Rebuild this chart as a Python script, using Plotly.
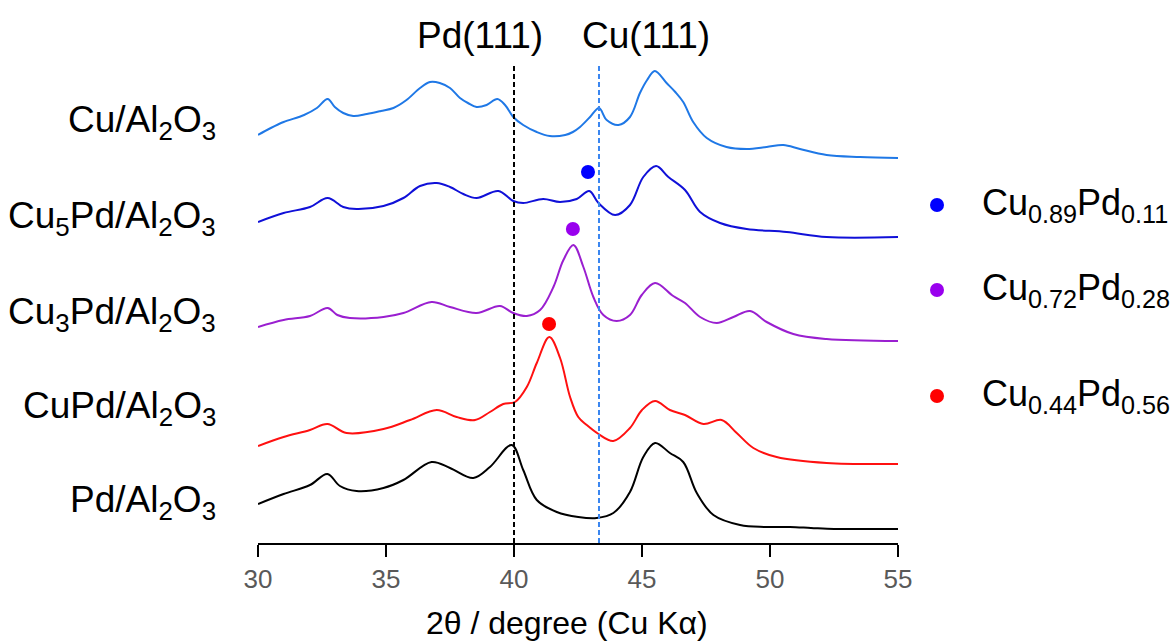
import plotly.graph_objects as go

# ---- data (2theta in degrees, intensity in arbitrary units, stacked) ----
cu_x = [30.0, 30.5, 31.0, 31.8, 32.3, 32.72, 33.0, 33.33, 33.72, 34.25, 34.8, 35.29, 35.8, 36.33, 36.72,
        37.1, 37.5, 37.89, 38.2, 38.54, 38.93, 39.35, 39.65, 39.97, 40.36, 40.89, 41.4, 42.0, 42.3,
        42.58, 42.97, 43.32, 43.62, 44.08, 44.53, 44.92, 45.2, 45.5, 45.96, 46.3, 46.61, 47.0, 47.53,
        48.3, 49.09, 49.87, 50.52, 51.17, 52.21, 53.52, 55.0]
cu_y = [408, 415, 421, 428, 435, 444, 436, 430, 427, 429, 432, 435, 443, 455, 461,
        460, 455, 445, 440, 436, 438, 444, 438, 426, 418, 411, 407, 408, 411,
        416, 426, 435, 423, 418, 426, 450, 463, 472, 460, 451, 441, 421, 405,
        396, 394, 396, 398, 394, 388, 386, 385]

cu5pd_x = [30.0, 31.0, 32.03, 32.72, 33.33, 33.85, 34.9, 35.68, 36.33, 36.98, 37.5, 38.02, 38.54, 39.39,
           39.97, 40.36, 41.14, 41.8, 42.45, 42.94, 43.3, 43.95, 44.53, 45.05, 45.55, 46.03, 46.68,
           47.27, 48.05, 49.09, 50.65, 52.21, 55.0]
cu5pd_y = [321, 330, 336, 345, 336, 334, 337, 345, 357, 360, 356, 349, 345, 352,
           342, 340, 344, 341, 344, 352, 340, 328, 338, 366, 377, 366, 353,
           331, 320, 314, 311, 306, 306]

cu3pd_x = [30.0, 31.0, 32.03, 32.72, 33.1, 33.59, 34.9, 35.68, 36.78, 37.5, 38.54, 39.45, 39.97, 40.5,
           41.02, 41.54, 41.93, 42.32, 42.71, 43.1, 43.49, 44.01, 44.53, 44.99, 45.51, 46.22, 46.68,
           47.27, 47.92, 48.57, 49.22, 49.87, 50.91, 52.21, 55.0]
cu3pd_y = [216, 223, 227, 235, 228, 225, 226, 230, 241, 236, 230, 237, 230, 227,
           233, 256, 283, 298, 276, 246, 228, 222, 228, 248, 260, 247, 240,
           226, 220, 226, 232, 221, 209, 204, 202]

cupd_x = [30.0, 31.0, 32.03, 32.71, 33.46, 34.9, 35.94, 36.98, 37.76, 38.48, 39.06, 39.58, 40.04, 40.5,
          40.89, 41.38, 41.8, 42.19, 42.51, 42.84, 43.3, 43.88, 44.53, 45.0, 45.51, 46.09, 46.68,
          47.4, 48.11, 48.7, 49.35, 50.26, 52.21, 55.0]
cupd_y = [97, 106, 113, 119, 110, 114, 123, 133, 126, 123, 131, 139, 141, 156,
          180, 206, 185, 146, 126, 118, 109, 102, 115, 133, 142, 133, 128,
          119, 123, 110, 95, 86, 80, 79]

pd_x = [30.0, 31.0, 32.03, 32.71, 33.2, 33.85, 34.9, 35.68, 36.78, 37.5, 38.41, 39.06, 39.91, 40.36,
        40.89, 41.67, 42.51, 43.23, 43.88, 44.53, 45.05, 45.51, 46.09, 46.61, 47.14, 47.79, 48.83,
        49.8, 50.78, 51.6, 52.5, 53.6, 55.0]
pd_y = [39, 49, 58, 69, 57, 52, 55, 63, 81, 75, 65, 76, 98, 73,
        43, 31, 26, 25, 30, 51, 86, 100, 90, 81, 50, 28, 18,
        16, 16, 15, 14, 14, 14]

series_names = ["Cu/Al<sub>2</sub>O<sub>3</sub>", "Cu<sub>5</sub>Pd/Al<sub>2</sub>O<sub>3</sub>",
                "Cu<sub>3</sub>Pd/Al<sub>2</sub>O<sub>3</sub>", "CuPd/Al<sub>2</sub>O<sub>3</sub>",
                "Pd/Al<sub>2</sub>O<sub>3</sub>"]
series_colors = ["#1f78e6", "#1010d8", "#9a1fd0", "#ff1010", "#000000"]
label_y = [421, 325, 229, 135, 41]

# alloy peak markers
peak_x = [42.89, 42.30, 41.37]
peak_y = [371, 314, 219]
peak_colors = ["#0000ff", "#9900ee", "#ff0000"]
peak_labels = ["Cu<sub>0.89</sub>Pd<sub>0.11</sub>", "Cu<sub>0.72</sub>Pd<sub>0.28</sub>",
               "Cu<sub>0.44</sub>Pd<sub>0.56</sub>"]
legend_py = [205, 290, 396]

ref_lines_x = [40.0, 43.32]
ref_labels = ["Pd(111)", "Cu(111)"]
ref_colors = ["#000000", "#3a86f0"]

tick_vals = [30, 35, 40, 45, 50, 55]

FONT = "Liberation Sans, Arial, sans-serif"
W, H = 1174, 644
L, R, T, B = 258, 276, 0, 101
YMAX = 543

fig = go.Figure()
for xs, ys, c in zip([cu_x, cu5pd_x, cu3pd_x, cupd_x, pd_x],
                     [cu_y, cu5pd_y, cu3pd_y, cupd_y, pd_y], series_colors):
    fig.add_trace(go.Scatter(x=xs, y=ys, mode="lines",
                             line=dict(color=c, width=2, shape="spline", smoothing=1.0),
                             showlegend=False, hoverinfo="skip"))

fig.add_trace(go.Scatter(x=peak_x, y=peak_y, mode="markers",
                         marker=dict(color=peak_colors, size=14), showlegend=False,
                         cliponaxis=False))

shapes = []
for xv, c in zip(ref_lines_x, ref_colors):
    shapes.append(dict(type="line", xref="x", yref="y", x0=xv, x1=xv, y0=0, y1=478,
                       line=dict(color=c, width=2, dash="5px,3px")))

annotations = []
ref_label_x = [38.67, 45.16]
for xv, t in zip(ref_label_x, ref_labels):
    annotations.append(dict(x=xv, y=YMAX - 35, xref="x", yref="y", text=t, showarrow=False,
                            font=dict(size=37, color="black", family=FONT)))
for t, yv in zip(series_names, label_y):
    annotations.append(dict(x=(218 - L) / 640, y=yv, xref="paper", yref="y", text=t,
                            showarrow=False, xanchor="right", yanchor="middle",
                            font=dict(size=37, color="black", family=FONT)))
for t, c, py in zip(peak_labels, peak_colors, legend_py):
    annotations.append(dict(x=(980 - L) / 640, y=YMAX - py, xref="paper", yref="y", text=t,
                            showarrow=False, xanchor="left", yanchor="middle",
                            font=dict(size=36, color="black", family=FONT)))
    shapes.append(dict(type="circle", xref="paper", yref="y",
                       x0=(930 - L) / 640, x1=(944 - L) / 640,
                       y0=YMAX - py - 7, y1=YMAX - py + 7,
                       fillcolor=c, line=dict(width=0)))

# x-axis title placed as annotation (slightly left of the axis centre, as in the reference)
annotations.append(dict(x=(567 - L) / 640, y=(YMAX - 623) / YMAX, xref="paper", yref="paper",
                        text="2θ / degree (Cu Kα)", showarrow=False, yanchor="middle",
                        font=dict(size=32, color="black", family=FONT)))

fig.update_layout(
    width=W, height=H, margin=dict(l=L, r=R, t=T, b=B, pad=0),
    paper_bgcolor="white", plot_bgcolor="white",
    shapes=shapes, annotations=annotations,
    xaxis=dict(range=[30, 55], tickvals=tick_vals, showgrid=False, zeroline=False,
               showline=True, linecolor="black", linewidth=1.5, ticks="outside",
               ticklen=12, tickcolor="black", tickwidth=1.5,
               tickfont=dict(size=26, color="#595959", family=FONT)),
    yaxis=dict(range=[0, YMAX], visible=False, showgrid=False, zeroline=False),
    font=dict(family=FONT),
)

fig.write_html("out.html")
